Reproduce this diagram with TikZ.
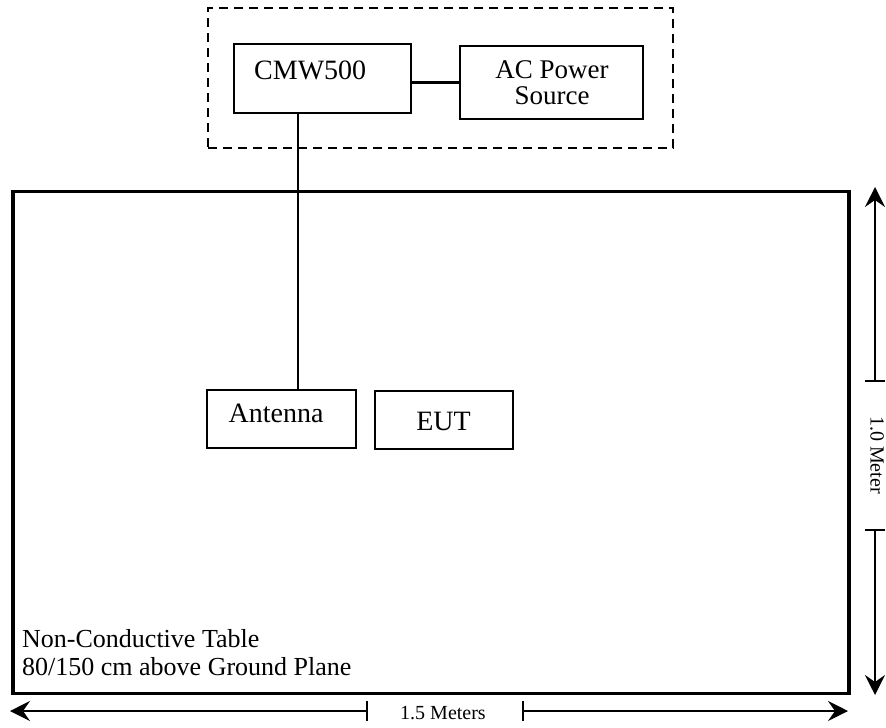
\documentclass[tikz,border=0pt]{standalone}
\usepackage{fontspec}
\setmainfont{Liberation Serif}
\usetikzlibrary{arrows.meta}
\begin{document}
\begin{tikzpicture}[x=1pt,y=-1pt,
  box/.style={draw,line width=2pt,inner sep=0pt},
  boxtext/.style={font=\fontsize{28}{25}\selectfont,inner sep=0pt},
  actext/.style={font=\fontsize{27}{26}\selectfont,inner sep=0pt},
  labtext/.style={font=\fontsize{26}{28}\selectfont,inner sep=0pt},
  dimtext/.style={font=\fontsize{20}{20}\selectfont,inner sep=0pt},
  dimline/.style={line width=1.5pt},
  dimtip/.style={-{Stealth[length=20pt,width=20pt,inset=7pt]}}
]
\useasboundingbox (0,0) rectangle (886,728);
% dashed enclosure
\node[draw,dashed,dash pattern=on 9pt off 6pt,line width=2pt,minimum width=465pt,minimum height=140pt,inner sep=0pt] (encl) at (440.5,78) {};
% boxes
\node[box,minimum width=177pt,minimum height=69pt] (cmw) at (322.5,78.5) {};
\node[boxtext,anchor=base west] (cmwt) at (254,79) {CMW500};
\node[box,minimum width=183pt,minimum height=73pt] (ac) at (551.5,82.5) {};
\node[actext,align=center] (act) at (552,83) {AC Power\\Source};
% table
\node[draw,line width=3.5pt,minimum width=836pt,minimum height=502pt,inner sep=0pt] (table) at (431,442.5) {};
\node[box,minimum width=149pt,minimum height=58pt] (ant) at (281.5,419) {};
\node[boxtext,anchor=base] (antt) at (276,422) {Antenna};
\node[box,minimum width=138pt,minimum height=58pt] (eut) at (444,419.5) {};
\node[boxtext,anchor=base] (eutt) at (443.5,430) {EUT};
\node[labtext,anchor=base west] (lab1) at (22,647) {Non-Conductive Table};
\node[labtext,anchor=base west] (lab2) at (22,675) {80/150 cm above Ground Plane};
% connectors
\coordinate (feed) at (298,0);
\draw[line width=3pt] (ac.west -| cmw.east) -- (ac.west);
\draw[line width=2pt] (cmw.south -| feed) -- (ant.north -| feed);
% horizontal dimension
\coordinate (hl) at (10,711);
\coordinate (hr) at (848,711);
\coordinate (ht1) at (367,711);
\coordinate (ht2) at (523,711);
\node[dimtext,anchor=base] (hdim) at (443,719) {1.5 Meters};
\draw[dimline,dimtip] (ht1) -- (hl);
\draw[dimline,dimtip] (ht2) -- (hr);
\draw[dimline] ([yshift=-10pt]ht1) -- ([yshift=10pt]ht1);
\draw[dimline] ([yshift=-10pt]ht2) -- ([yshift=10pt]ht2);
% vertical dimension
\coordinate (vt) at (875,187);
\coordinate (vb) at (875,695);
\coordinate (vt1) at (875,381);
\coordinate (vt2) at (875,530);
\node[dimtext,rotate=-90] (vdim) at (877,455) {1.0 Meter};
\draw[dimline,dimtip] (vt1) -- (vt);
\draw[dimline,dimtip] (vt2) -- (vb);
\draw[dimline] ([xshift=-10pt]vt1) -- ([xshift=10pt]vt1);
\draw[dimline] ([xshift=-10pt]vt2) -- ([xshift=10pt]vt2);
\end{tikzpicture}
\end{document}
